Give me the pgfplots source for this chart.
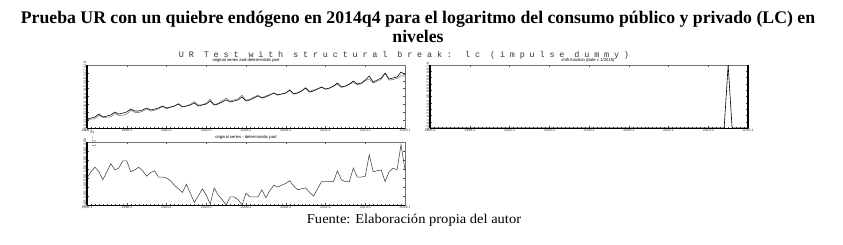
\documentclass[border=0pt]{standalone}
\usepackage{fontspec}
\setmainfont{Liberation Serif}
\newfontfamily\grmono{Liberation Mono}[LetterSpace=57]
\newfontfamily\grsans{Liberation Sans}
\newfontfamily\footfont{Liberation Serif}[FakeStretch=1.08]
\usepackage{pgfplots}
\usepackage{pgfplotstable}
\pgfplotsset{compat=1.18}

\pgfplotstableread{
idx orig det resid
0 11.114 11.106 0.000
1 11.127 11.112 0.007
2 11.140 11.120 0.012
3 11.178 11.163 0.007
4 11.140 11.134 -0.002
5 11.152 11.137 0.007
6 11.165 11.141 0.016
7 11.203 11.186 0.009
8 11.178 11.159 0.011
9 11.190 11.163 0.019
10 11.203 11.176 0.019
11 11.241 11.226 0.007
12 11.216 11.199 0.009
13 11.216 11.196 0.012
14 11.229 11.213 0.008
15 11.254 11.244 0.002
16 11.229 11.215 0.006
17 11.241 11.225 0.008
18 11.254 11.245 0.001
19 11.279 11.270 0.001
20 11.254 11.246 0.000
21 11.267 11.262 -0.003
22 11.279 11.279 -0.008
23 11.305 11.309 -0.012
24 11.267 11.275 -0.016
25 11.279 11.278 -0.007
26 11.292 11.301 -0.017
27 11.317 11.336 -0.027
28 11.279 11.291 -0.020
29 11.292 11.296 -0.012
30 11.305 11.316 -0.019
31 11.343 11.364 -0.029
32 11.292 11.295 -0.011
33 11.305 11.316 -0.019
34 11.330 11.346 -0.024
35 11.356 11.378 -0.030
36 11.330 11.343 -0.021
37 11.343 11.356 -0.021
38 11.356 11.372 -0.024
39 11.394 11.416 -0.030
40 11.343 11.352 -0.017
41 11.356 11.369 -0.021
42 11.381 11.394 -0.021
43 11.406 11.419 -0.021
44 11.381 11.386 -0.013
45 11.394 11.408 -0.022
46 11.419 11.425 -0.014
47 11.444 11.444 -0.008
48 11.419 11.421 -0.010
49 11.432 11.432 -0.008
50 11.444 11.442 -0.006
51 11.483 11.478 -0.003
52 11.432 11.433 -0.009
53 11.444 11.449 -0.013
54 11.470 11.474 -0.012
55 11.508 11.511 -0.011
56 11.457 11.465 -0.016
57 11.470 11.482 -0.020
58 11.495 11.499 -0.012
59 11.521 11.517 -0.004
60 11.495 11.491 -0.004
61 11.508 11.504 -0.004
62 11.533 11.529 -0.004
63 11.571 11.555 0.008
64 11.521 11.515 -0.002
65 11.533 11.529 -0.004
66 11.559 11.555 -0.004
67 11.597 11.578 0.011
68 11.559 11.550 0.001
69 11.571 11.562 0.001
70 11.610 11.600 0.002
71 11.660 11.626 0.026
72 11.584 11.569 0.007
73 11.610 11.594 0.008
74 11.635 11.618 0.009
75 11.698 11.694 -0.004
76 11.622 11.607 0.007
77 11.635 11.616 0.011
78 11.648 11.631 0.009
79 11.711 11.666 0.037
80 11.673 11.656 0.009
}\lcdata

\pgfplotstableread{
idx shift
0 0
73 0
74 0
75 1
76 0
77 0
80 0
}\shiftdata

\pgfplotsset{
  panel/.style={
    scale only axis, width=318bp, height=63bp,
    xmin=0, xmax=80,
    xtick={0,10,...,80},
    xticklabels={1996:1,1998:3,2001:1,2003:3,2006:1,2008:3,2011:1,2013:3,2016:1},
    minor x tick num=9,
    tick label style={font=\grsans\fontsize{3.6}{4}\selectfont, text=black!80},
    /pgf/number format/assume math mode=true,
    yticklabel style={rotate=90, anchor=south, inner sep=0.6bp},
    xticklabel style={inner sep=0.8bp},
    major tick length=2bp, minor tick length=1bp,
    tick style={black!70, line width=0.3pt},
    axis line style={black!55, line width=0.5pt},
    tick align=inside,
    clip=false,
    after end axis/.code={
      \draw[black, line width=1.3pt] (rel axis cs:0,0) -- (rel axis cs:0,1);
      \draw[black, line width=0.6pt] (rel axis cs:0,0) -- (rel axis cs:1,0);
    },
  }
}

\begin{document}
\begin{tikzpicture}[x=1bp,y=1bp]
\useasboundingbox (0,0) rectangle (843,244);

\node[font=\bfseries\fontsize{17.8}{20}\selectfont, inner sep=0, anchor=base] at (418,221)
  {Prueba UR con un quiebre endógeno en 2014q4 para el logaritmo del consumo público y privado (LC) en};
\node[font=\bfseries\fontsize{17.8}{20}\selectfont, inner sep=0, anchor=base] at (418,202) {niveles};

\node[font=\grmono\fontsize{8.5}{9}\selectfont, text=black!80, inner sep=0, anchor=base] at (404,187)
  {UR Test with structural break: lc (impulse dummy)};

\node[font=\grsans\fontsize{4.2}{5}\selectfont, inner sep=0, anchor=base] at (246,183)
  {original series and deterministic part};
\node[font=\grsans\fontsize{4.2}{5}\selectfont, inner sep=0, anchor=base] at (588,183)
  {shift function (date = 1/2015)};
\node[font=\grsans\fontsize{4.2}{5}\selectfont, inner sep=0, anchor=base] at (246,105.5)
  {original series - deterministic part};

% panel 1
\begin{axis}[panel, at={(87bp,116bp)}, anchor=south west,
  ymin=11.0, ymax=11.8, ytick={11.0,11.1,...,11.8},
  yticklabel style={/pgf/number format/fixed, /pgf/number format/fixed zerofill, /pgf/number format/precision=1}]
\addplot[black!55, line width=0.55pt] table[x=idx, y=det] {\lcdata};
\addplot[black, line width=0.55pt] table[x=idx, y=orig] {\lcdata};
\end{axis}

% panel 2
\begin{axis}[panel, at={(430bp,116bp)}, anchor=south west,
  ymin=0, ymax=1, ytick={0,0.1,...,1.0},
  yticklabel style={/pgf/number format/fixed, /pgf/number format/fixed zerofill, /pgf/number format/precision=1}]
\addplot[black!50, line width=0.4pt] coordinates {(75,1) (75,0.97)};
\addplot[black, line width=0.6pt] table[x=idx, y=shift] {\shiftdata};
\draw[black, line width=1.3pt] (rel axis cs:1,0) -- (rel axis cs:1,1);
\end{axis}

% panel 3
\begin{axis}[panel, at={(87bp,39bp)}, anchor=south west,
  ymin=-0.03, ymax=0.04, ytick={-0.03,-0.02,...,0.04},
  yticklabel style={/pgf/number format/fixed, /pgf/number format/fixed zerofill, /pgf/number format/precision=2}]
\addplot[black!75, line width=0.55pt] table[x=idx, y=resid] {\lcdata};
\end{axis}

\node[font=\footfont\fontsize{13.5}{15}\selectfont, inner sep=0, anchor=base] at (414,21)
  {Fuente: Elaboración propia del autor};
\end{tikzpicture}
\end{document}
